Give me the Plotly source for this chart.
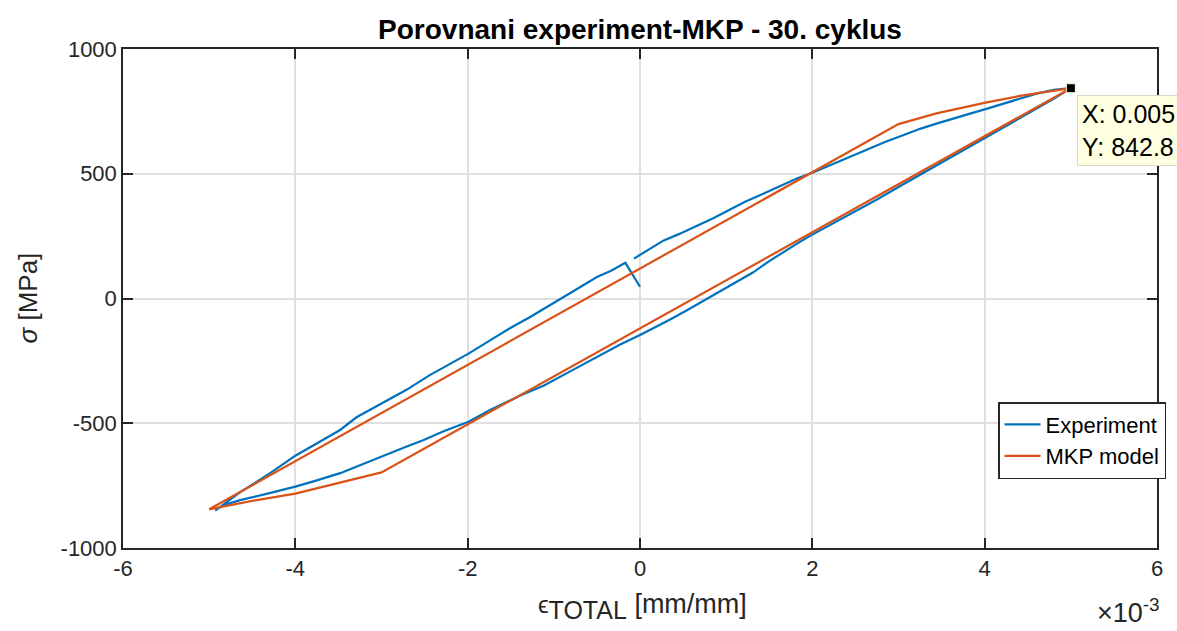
import plotly.graph_objects as go

# Strain values are in units of 1e-3 mm/mm (axis shows the x10^-3 multiplier)
exp_strain = [
    -0.07, 0.10, 0.27, 0.45, 0.66, 0.85, 1.04, 1.22, 1.43, 1.62, 1.82, 2.00, 2.20, 2.40,
    2.55, 2.67, 2.85, 3.06, 3.25, 3.44, 3.63, 3.83, 4.01, 4.22, 4.40, 4.60, 4.80, 5.00,
    4.80, 4.60, 4.40, 4.20, 4.00, 3.80, 3.60, 3.40, 3.20, 3.00, 2.75, 2.50, 2.28, 2.10,
    2.00, 1.85, 1.70, 1.50, 1.31, 1.10, 0.93, 0.74, 0.54, 0.35, 0.15, 0.00, -0.23, -0.50,
    -0.80, -1.12, -1.39, -1.74, -1.99, -2.28, -2.51, -2.70, -2.90, -3.20, -3.48, -3.75,
    -4.00, -4.30, -4.64, -4.85, -4.93,
    -4.80, -4.64, -4.45, -4.25, -4.00, -3.75, -3.48, -3.29, -3.10, -2.98, -2.71, -2.44,
    -2.20, -1.99, -1.75, -1.51, -1.28, -1.04, -0.77, -0.50, -0.33, -0.17, 0.00,
]
exp_stress = [
    160, 196, 232, 258, 290, 322, 356, 388, 420, 450, 481, 504, 533, 561,
    583, 601, 628, 655, 680, 701, 722, 741, 759, 782, 801, 821, 836, 843,
    800, 761, 722, 683, 645, 606, 566, 528, 487, 447, 397, 350, 312, 278,
    256, 226, 194, 150, 104, 62, 27, -10, -48, -84, -120, -146, -184, -233,
    -290, -350, -389, -447, -494, -532, -567, -592, -620, -662, -700, -729,
    -754, -780, -808, -830, -850,
    -818, -776, -735, -690, -630, -580, -527, -476, -440, -414, -366, -307,
    -262, -221, -170, -119, -75, -27, 30, 86, 112, 143, 47,
]

mkp_strain = [-5.00, 3.00, 3.44, 4.01, 4.41, 5.00, -3.00, -3.50, -4.00, -4.45, -5.00]
mkp_stress = [-845, 699, 742, 785, 812, 843, -697, -741, -782, -808, -845]

tip_strain = 5.00
tip_stress = 842.8

x_ticks = [-6, -4, -2, 0, 2, 4, 6]
y_ticks = [-1000, -500, 0, 500, 1000]

FONT = "Liberation Sans, Arial, Helvetica, sans-serif"
AX = "#262626"
GRID = "#dfdfdf"

fig = go.Figure()
fig.add_trace(go.Scatter(
    x=exp_strain, y=exp_stress, mode="lines", name="Experiment",
    line=dict(color="#0072BD", width=2.2),
))
fig.add_trace(go.Scatter(
    x=mkp_strain, y=mkp_stress, mode="lines", name="MKP model",
    line=dict(color="#D95319", width=2.2),
))
fig.add_trace(go.Scatter(
    x=[tip_strain], y=[tip_stress], mode="markers", showlegend=False,
    marker=dict(symbol="square", size=9, color="black",
                line=dict(color="#FFFFE1", width=1)),
    cliponaxis=False,
))

fig.update_layout(
    width=1177, height=631,
    margin=dict(l=123, r=20, t=49, b=83, autoexpand=False),
    paper_bgcolor="white", plot_bgcolor="white",
    font=dict(family=FONT, size=22, color=AX),
    title=dict(text="<b>Porovnani experiment-MKP - 30. cyklus</b>",
               x=640 / 1177, xanchor="center", y=1 - 29 / 631, yanchor="middle",
               font=dict(size=28, color="black")),
    showlegend=True,
    legend=dict(
        x=(998 - 123) / 1034, xanchor="left",
        y=(548 - 402) / 499, yanchor="top",
        bgcolor="white", bordercolor=AX, borderwidth=1.5,
        font=dict(size=22, color="black"),
        tracegroupgap=0, itemwidth=36,
    ),
)

fig.update_xaxes(
    range=[-6, 6], tickvals=x_ticks, ticktext=[str(v) for v in x_ticks],
    showgrid=True, gridcolor=GRID, gridwidth=1.5, zeroline=False,
    showline=True, linecolor=AX, linewidth=1.5, mirror="ticks",
    ticks="inside", ticklen=10, tickwidth=1.5, tickcolor=AX,
    tickfont=dict(size=22, color=AX), automargin=False,
)
fig.update_yaxes(
    range=[-1000, 1000], tickvals=y_ticks, ticktext=[str(v) for v in y_ticks],
    showgrid=True, gridcolor=GRID, gridwidth=1.5, zeroline=False,
    showline=True, linecolor=AX, linewidth=1.5, mirror="ticks",
    ticks="inside", ticklen=10, tickwidth=1.5, tickcolor=AX,
    tickfont=dict(size=22, color=AX), automargin=False,
)

# Axis labels, exponent multiplier and data tip
fig.add_annotation(
    text='<span style="font-size:24px">ϵ</span>'
         '<sub><span style="font-size:25px">TOTAL</span></sub> [mm/mm]',
    xref="paper", yref="paper",
    x=(642 - 123) / 1034, y=-(606 - 548) / 499, xanchor="center", yanchor="middle",
    showarrow=False, font=dict(size=27, color=AX))
fig.add_annotation(text="<i>σ</i> [MPa]", xref="paper", yref="paper",
                   x=-(123 - 27) / 1034, y=0.5, xanchor="center", yanchor="middle",
                   textangle=-90, showarrow=False, font=dict(size=26, color=AX))
fig.add_annotation(text="×10<sup>-3</sup>", xref="paper", yref="paper",
                   x=(1162 - 123) / 1034, y=-(611 - 548) / 499, xanchor="right",
                   yanchor="middle", showarrow=False, font=dict(size=27, color=AX))
# Data tip sits against the figure's right edge
fig.add_annotation(text=f"X: {tip_strain / 1000:g}<br>Y: {tip_stress}",
                   xref="paper", yref="paper",
                   x=(1077 - 123) / 1034, y=(548 - 95) / 499,
                   xanchor="left", yanchor="top", align="left",
                   showarrow=False, bgcolor="#FFFFE1", bordercolor="#d8d8c8",
                   borderwidth=1, borderpad=4,
                   font=dict(size=25, color="black"))

fig.write_html("out.html")
